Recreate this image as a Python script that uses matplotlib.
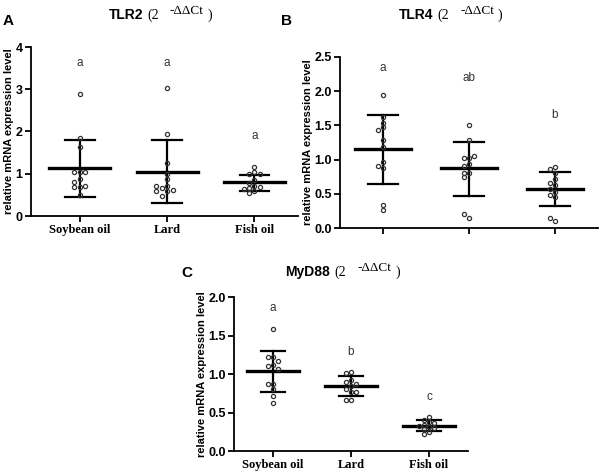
import numpy as np
import matplotlib
matplotlib.use('Agg')
from matplotlib import pyplot as plt

plt.rcParams['font.family'] = ['Liberation Sans', 'DejaVu Sans']

groups = ['Soybean oil', 'Lard', 'Fish oil']

# TLR2
tlr2_soy = [2.89, 1.85, 1.64, 1.05, 1.03, 1.05, 0.88, 0.80, 0.68, 0.68, 0.70, 0.50]
tlr2_lard = [3.02, 1.95, 1.26, 1.00, 0.88, 0.72, 0.67, 0.62, 0.70, 0.58, 0.58, 0.48]
tlr2_fish = [1.15, 1.03, 1.00, 0.99, 0.85, 0.78, 0.72, 0.68, 0.66, 0.64, 0.60, 0.55]
tlr2_mean = [1.13, 1.05, 0.80]
tlr2_hi = [1.81, 1.80, 0.98]
tlr2_lo = [0.46, 0.30, 0.60]
tlr2_letters = ['a', 'a', 'a']
tlr2_letter_y = [3.62, 3.62, 1.89]

# TLR4
tlr4_soy = [1.95, 1.62, 1.54, 1.47, 1.43, 1.28, 1.19, 0.96, 0.90, 0.87, 0.33, 0.26]
tlr4_lard = [1.51, 1.29, 1.03, 1.03, 1.05, 0.94, 0.90, 0.80, 0.81, 0.74, 0.14, 0.20]
tlr4_fish = [0.89, 0.86, 0.81, 0.71, 0.66, 0.63, 0.57, 0.52, 0.48, 0.45, 0.10, 0.15]
tlr4_mean = [1.15, 0.87, 0.57]
tlr4_hi = [1.65, 1.26, 0.82]
tlr4_lo = [0.64, 0.47, 0.32]
tlr4_letters = ['a', 'ab', 'b']
tlr4_letter_y = [2.34, 2.19, 1.65]

# MyD88
myd_soy = [1.59, 1.22, 1.22, 1.17, 1.12, 1.10, 1.07, 0.87, 0.87, 0.81, 0.72, 0.62]
myd_lard = [1.03, 1.01, 0.92, 0.90, 0.87, 0.84, 0.80, 0.77, 0.76, 0.66, 0.66]
myd_fish = [0.44, 0.40, 0.38, 0.36, 0.34, 0.33, 0.31, 0.30, 0.28, 0.25, 0.22]
myd_mean = [1.04, 0.84, 0.33]
myd_hi = [1.30, 0.97, 0.40]
myd_lo = [0.77, 0.71, 0.26]
myd_letters = ['a', 'b', 'c']
myd_letter_y = [1.86, 1.28, 0.70]

W, H = 600, 473
fig = plt.figure(figsize=(6, 4.73), dpi=100)


def swarm(vals, thr, dx=0.062):
    placed = []
    offs = []
    for v in vals:
        for s in [0, -1, 1, -2, 2, -3, 3]:
            if all(abs(v - pv) >= thr for pv, ps in placed if ps == s):
                break
        placed.append((v, s))
        offs.append(s * dx)
    return offs


def panel(rect, series, mean, hi, lo, letters, letter_y, ymax, ystep, fmt,
          xlabels, mean_w=0.34, cap_w=0.17, xlim=(-0.5, 2.5)):
    ax = fig.add_axes(rect)
    px_h = rect[3] * H
    thr = ymax / px_h * 4.5
    for i, vals in enumerate(series):
        offs = swarm(vals, thr)
        ax.plot(np.array(offs) + i, vals, 'o', ms=3.0, mfc='none', mec='#333333',
                mew=0.9, zorder=3, clip_on=False)
        ax.plot([i, i], [lo[i], hi[i]], color='black', lw=1.6, zorder=2)
        ax.plot([i - cap_w, i + cap_w], [hi[i], hi[i]], color='black', lw=1.6, zorder=2)
        ax.plot([i - cap_w, i + cap_w], [lo[i], lo[i]], color='black', lw=1.6, zorder=2)
        ax.plot([i - mean_w, i + mean_w], [mean[i], mean[i]], color='black', lw=2.4, zorder=2)
        ax.text(i, letter_y[i], letters[i], ha='center', va='center', fontsize=8.5,
                color='#333333')
    ax.set_xlim(*xlim)
    ax.set_ylim(0, ymax)
    ticks = np.arange(0, ymax + 1e-9, ystep)
    ax.set_yticks(ticks)
    ax.set_yticklabels([fmt.format(t) for t in ticks], fontsize=9, fontweight='bold')
    ax.set_xticks(range(3))
    if xlabels:
        ax.set_xticklabels(groups, fontsize=9, fontweight='bold', family='Liberation Serif')
    else:
        ax.set_xticklabels([])
    for s in ['top', 'right']:
        ax.spines[s].set_visible(False)
    for s in ['left', 'bottom']:
        ax.spines[s].set_linewidth(1.3)
    ax.tick_params(width=1.3, length=4, pad=2)
    ax.set_ylabel('relative mRNA expression level', fontsize=8, fontweight='bold', labelpad=1)
    return ax


def title(x, y, gene):
    yy = 1 - y / H
    fig.text(x / W, yy, gene, ha='right', va='center', fontsize=10, fontweight='bold')
    fig.text((x + 4) / W, yy, '(2', ha='left', va='center', fontsize=10,
             family='Liberation Serif')
    fig.text((x + 27) / W, yy + 4 / H, '-\u0394\u0394Ct', ha='left', va='center',
             fontsize=9.5, family='Liberation Serif')
    fig.text((x + 65) / W, yy, ')', ha='left', va='center', fontsize=10,
             family='Liberation Serif')


axA = panel([31 / W, 1 - 216 / H, 267 / W, 169 / H],
            [tlr2_soy, tlr2_lard, tlr2_fish], tlr2_mean, tlr2_hi, tlr2_lo,
            tlr2_letters, tlr2_letter_y, 4, 1, '{:.0f}', True,
            mean_w=0.35, cap_w=0.17, xlim=(-0.56, 2.5))
axB = panel([340 / W, 1 - 228 / H, 258 / W, 171 / H],
            [tlr4_soy, tlr4_lard, tlr4_fish], tlr4_mean, tlr4_hi, tlr4_lo,
            tlr4_letters, tlr4_letter_y, 2.5, 0.5, '{:.1f}', False,
            mean_w=0.33, cap_w=0.175)
axC = panel([234 / W, 1 - 451 / H, 234 / W, 154 / H],
            [myd_soy, myd_lard, myd_fish], myd_mean, myd_hi, myd_lo,
            myd_letters, myd_letter_y, 2.0, 0.5, '{:.1f}', True,
            mean_w=0.33, cap_w=0.15)

title(143, 15, 'TLR2')
title(433, 15, 'TLR4')
title(330, 272, 'MyD88')

fig.text(8 / W, 1 - 21 / H, 'A', ha='center', va='center', fontsize=11, fontweight='bold')
fig.text(286 / W, 1 - 21 / H, 'B', ha='center', va='center', fontsize=11, fontweight='bold')
fig.text(187 / W, 1 - 273 / H, 'C', ha='center', va='center', fontsize=11, fontweight='bold')

fig.savefig('out.png', dpi=100)
